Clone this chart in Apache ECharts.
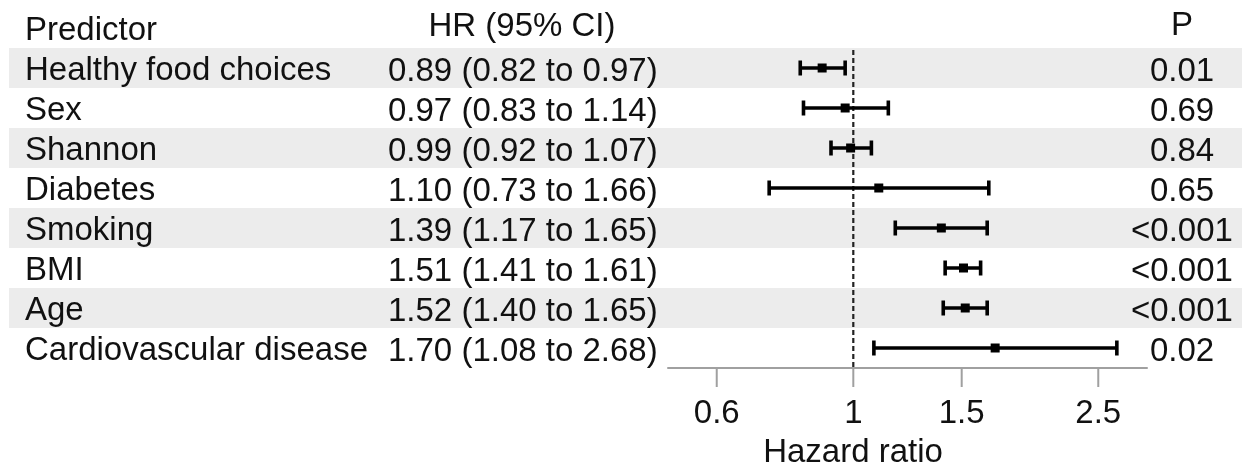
<!DOCTYPE html>
<html><head><meta charset="utf-8">
<script src="https://cdn.jsdelivr.net/npm/echarts@6/dist/echarts.min.js"></script>
<style>html,body{margin:0;padding:0;background:#fff}#c{width:1242px;height:464px}</style>
</head><body><div id="c"></div>
<script>
// ---- data ----
const predictors = ['Healthy food choices', 'Sex', 'Shannon', 'Diabetes', 'Smoking', 'BMI', 'Age', 'Cardiovascular disease'];
const hrValues = [0.89, 0.97, 0.99, 1.10, 1.39, 1.51, 1.52, 1.70];
const ciLower  = [0.82, 0.83, 0.92, 0.73, 1.17, 1.41, 1.40, 1.08];
const ciUpper  = [0.97, 1.14, 1.07, 1.66, 1.65, 1.61, 1.65, 2.68];
const pLabels  = ['0.01', '0.69', '0.84', '0.65', '<0.001', '<0.001', '<0.001', '0.02'];
const tickValues = [0.6, 1, 1.5, 2.5];
const tickLabels = ['0.6', '1', '1.5', '2.5'];
const headers = ['Predictor', 'HR (95% CI)', 'P'];
const axisTitle = 'Hazard ratio';
const refValue = 1;

// ---- styles ----
const FONT = '"Liberation Sans", Arial, Helvetica, sans-serif';
const FS = 33, TXT = '#111';
const BAND = '#ececec';

const hrLabel = i => `${hrValues[i].toFixed(2)} (${ciLower[i].toFixed(2)} to ${ciUpper[i].toFixed(2)})`;
const lastRow = predictors.length - 1;
const forestRows = predictors.map((p, i) => [hrValues[i], i, ciLower[i], ciUpper[i]]);
const tableRows = predictors.map((p, i) => [refValue, i]);

function txt(text, x, y, align) {
  return { type: 'text', x: x, y: y,
    style: { text: text, fontSize: FS, fontFamily: FONT, fill: TXT, align: align, verticalAlign: 'middle' } };
}

function renderBands(params, api) {
  const i = params.dataIndex;
  if (i % 2 !== 0) return null;
  const y = api.coord([api.value(0), api.value(1)])[1];
  const h = api.size([0, 1])[1];
  return { type: 'rect', shape: { x: 9, y: y - h / 2, width: api.getWidth() - 9, height: h }, style: { fill: BAND } };
}

function renderTable(params, api) {
  const i = params.dataIndex;
  const y = api.coord([api.value(0), api.value(1)])[1];
  return { type: 'group', children: [
    txt(predictors[i], 25, y + 2.5, 'left'),
    txt(hrLabel(i), 388, y + 3.5, 'left'),
    txt(pLabels[i], 1182, y + 3.5, 'center')
  ]};
}

function renderRef(params, api) {
  const top = api.coord([api.value(0), 0]);
  const bot = api.coord([api.value(0), lastRow]);
  const h = api.size([0, 1])[1];
  return { type: 'line', shape: { x1: top[0], y1: top[1] - h / 2 + 2, x2: bot[0], y2: bot[1] + h / 2 },
    style: { stroke: '#222', lineWidth: 2.2, lineDash: [5, 3] } };
}

function renderForest(params, api) {
  const yv = api.value(1);
  const pm = api.coord([api.value(0), yv]);
  const pl = api.coord([api.value(2), yv]);
  const ph = api.coord([api.value(3), yv]);
  const y = pm[1], cap = 7.5;
  const ls = { stroke: '#000', lineWidth: 3.6 };
  return { type: 'group', children: [
    { type: 'line', shape: { x1: pl[0], y1: y, x2: ph[0], y2: y }, style: ls },
    { type: 'line', shape: { x1: pl[0], y1: y - cap, x2: pl[0], y2: y + cap }, style: ls },
    { type: 'line', shape: { x1: ph[0], y1: y - cap, x2: ph[0], y2: y + cap }, style: ls },
    { type: 'rect', shape: { x: pm[0] - 4.5, y: y - 4.5, width: 9, height: 9 }, style: { fill: '#000' } }
  ]};
}

function renderTicks(params, api) {
  const i = params.dataIndex;
  const p = api.coord([api.value(0), api.value(1)]);
  const h = api.size([0, 1])[1];
  const ay = p[1] + h / 2;
  return { type: 'group', children: [
    { type: 'line', shape: { x1: p[0], y1: ay, x2: p[0], y2: ay + 19 }, style: { stroke: '#a0a0a0', lineWidth: 2 } },
    txt(tickLabels[i], p[0], ay + 46, 'center')
  ]};
}

const chart = echarts.init(document.getElementById('c'), null, { renderer: 'canvas' });
chart.setOption({
  animation: false,
  backgroundColor: '#fff',
  grid: { left: 668, right: 95, top: 48, bottom: 96 },
  xAxis: {
    type: 'log', logBase: 10, min: 0.5, max: 3,
    axisLine: { show: true, onZero: false, lineStyle: { color: '#a0a0a0', width: 2 } },
    axisTick: { show: false }, axisLabel: { show: false }, splitLine: { show: false }
  },
  yAxis: {
    type: 'category', data: predictors, inverse: true,
    axisLine: { show: false }, axisTick: { show: false }, axisLabel: { show: false }, splitLine: { show: false }
  },
  graphic: [
    txt(headers[0], 25, 31, 'left'),
    txt(headers[1], 522, 27, 'center'),
    txt(headers[2], 1182, 26, 'center'),
    txt(axisTitle, 853, 453, 'center')
  ],
  series: [
    { type: 'custom', name: 'bands', z: 0, silent: true, data: tableRows, encode: { x: 0, y: 1 }, renderItem: renderBands },
    { type: 'custom', name: 'table', z: 2, silent: true, data: tableRows, encode: { x: 0, y: 1 }, renderItem: renderTable },
    { type: 'custom', name: 'ref', z: 3, silent: true, data: [[refValue, 0]], encode: { x: 0, y: 1 }, renderItem: renderRef },
    { type: 'custom', name: 'forest', z: 4, data: forestRows, encode: { x: 0, y: 1 }, renderItem: renderForest },
    { type: 'custom', name: 'ticks', z: 2, silent: true, data: tickValues.map(v => [v, lastRow]), encode: { x: 0, y: 1 }, renderItem: renderTicks }
  ]
});
</script></body></html>
